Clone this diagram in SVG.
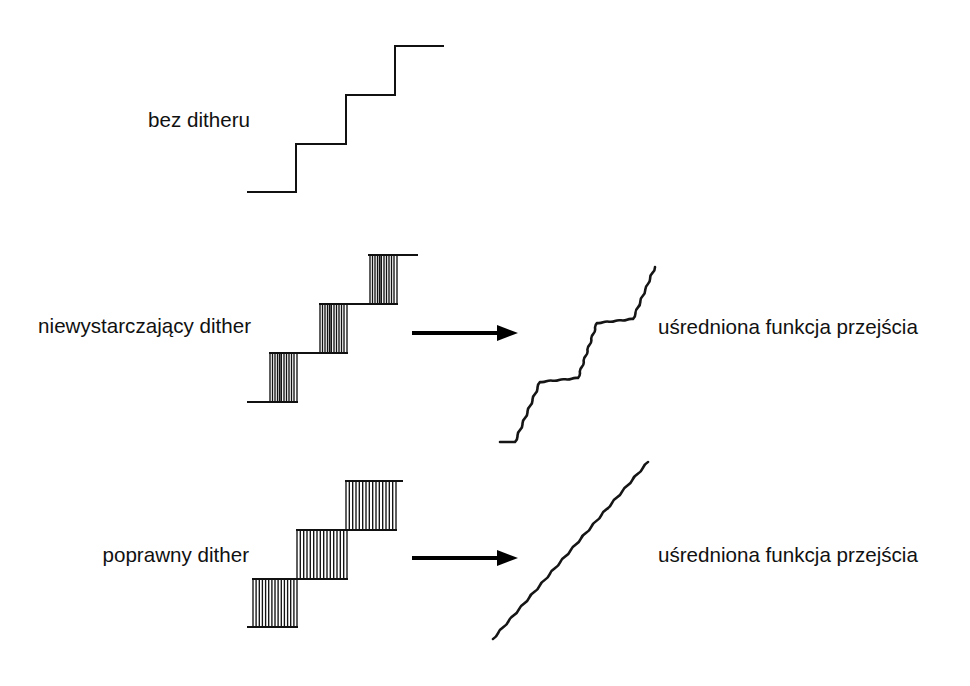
<svg xmlns="http://www.w3.org/2000/svg" width="970" height="686" viewBox="0 0 970 686">
  <style>
    .lbl { font-family: "Liberation Sans", Arial, sans-serif; font-size: 20.6px; fill: #111; }
    .stair { fill: none; stroke: #111; stroke-width: 2; stroke-linecap: square; }
    .hatch { fill: none; stroke: #111; stroke-width: 1.35; }
    .thick { fill: none; stroke: #111; stroke-width: 1.7; }
    .curve { fill: none; stroke: #151515; stroke-width: 2.6; stroke-linejoin: round; stroke-linecap: round; }
    .conn { stroke: #000; stroke-width: 4; fill: none; }
  </style>
  <defs>
    <marker id="head" markerUnits="userSpaceOnUse" markerWidth="22" markerHeight="16" refX="8" refY="8" orient="auto">
      <path d="M0,0 L21,8 L0,16 Z" fill="#000"/>
    </marker>
    <path id="mh" class="hatch" d="M0,0V49M2.5,0V49M5,0V49M7.5,0V49M9.5,0V49M14,0V49M16.5,0V49M19,0V49M21.5,0V49M24,0V49M27,0V49"/>
    <path id="mht" class="thick" d="M11.2,0V49"/>
  </defs>
  <rect width="970" height="686" fill="#fff"/>

  <g id="row1">
    <text class="lbl" x="250" y="127" text-anchor="end">bez ditheru</text>
    <path class="stair" d="M248,192H296V144H346V95H395V46H443"/>
  </g>

  <g id="row2">
    <text class="lbl" x="251" y="333" text-anchor="end">niewystarczający dither</text>
    <path class="stair" d="M248,402H297M270,353H347M320,304H397M369,255H417"/>
    <use href="#mh" x="270" y="353"/>
    <use href="#mht" x="270" y="353"/>
    <use href="#mh" x="320" y="304"/>
    <use href="#mht" x="320" y="304"/>
    <use href="#mh" x="370" y="255"/>
    <use href="#mht" x="370" y="255"/>
  </g>

  <g id="row3">
    <text class="lbl" x="249" y="562" text-anchor="end">poprawny dither</text>
    <path class="stair" d="M248,627H297M253,579H347M297,530H396M346,481H402"/>
    <path class="hatch" d="M253,579V627M256.1,579V627M259.3,579V627M262.4,579V627M265.6,579V627M268.7,579V627M271.9,579V627M275,579V627M278.1,579V627M281.3,579V627M284.4,579V627M287.6,579V627M290.7,579V627M293.9,579V627M297,530V627
      M300.3,530V579M303.7,530V579M307,530V579M310.3,530V579M313.7,530V579M317,530V579M320.3,530V579M323.7,530V579M327,530V579M330.3,530V579M333.7,530V579M337,530V579M340.3,530V579M343.7,530V579M347,530V579
      M346,481V530M349.3,481V530M352.7,481V530M356,481V530M359.3,481V530M362.7,481V530M366,481V530M369.3,481V530M372.7,481V530M376,481V530M379.3,481V530M382.7,481V530M386,481V530M389.3,481V530M392.7,481V530M396,481V530"/>
  </g>

  <g id="avg1">
    <path class="curve" d="M500,442H515
      Q517.65,439.6 517.5,436 T520,430 T522.5,424 T525,418 T527.5,412 T530,406 T532.5,400 T535,394 T537.5,388 T540,382
      Q543.25,382.47 546.33,381.33 T552.67,380.67 T559,380 T565.33,379.33 T571.67,378.67 T578,378
      Q580.37,375.74 579.9,372.5 T581.8,367 T583.7,361.5 T585.6,356 T587.5,350.5 T589.4,345 T591.3,339.5 T593.2,334 T595.1,328.5 T597,323
      Q600.08,323.47 603,322.33 T609,321.67 T615,321 T621,320.33 T627,319.67 T633,319
      Q635.51,316.65 635.44,313.22 T637.89,307.44 T640.33,301.67 T642.78,295.89 T645.22,290.11 T647.67,284.33 T650.11,278.56 T652.56,272.78 T655,267"/>
    <text class="lbl" x="658" y="334">uśredniona funkcja przejścia</text>
  </g>

  <g id="avg2">
    <path class="curve" d="M493,639 Q496.56,636.91 498.17,633.1 T503.33,627.2 T508.5,621.3 T513.67,615.4 T518.83,609.5 T524,603.6 T529.17,597.7 T534.33,591.8 T539.5,585.9 T544.67,580 T549.83,574.1 T555,568.2 T560.17,562.3 T565.33,556.4 T570.5,550.5 T575.67,544.6 T580.83,538.7 T586,532.8 T591.17,526.9 T596.33,521 T601.5,515.1 T606.67,509.2 T611.83,503.3 T617,497.4 T622.17,491.5 T627.33,485.6 T632.5,479.7 T637.67,473.8 T642.83,467.9 T648,462"/>
    <text class="lbl" x="658" y="562">uśredniona funkcja przejścia</text>
  </g>

  <g id="connectors">
    <line class="conn" x1="412" y1="333" x2="505" y2="333" marker-end="url(#head)"/>
    <line class="conn" x1="412" y1="558" x2="505" y2="558" marker-end="url(#head)"/>
  </g>
</svg>
